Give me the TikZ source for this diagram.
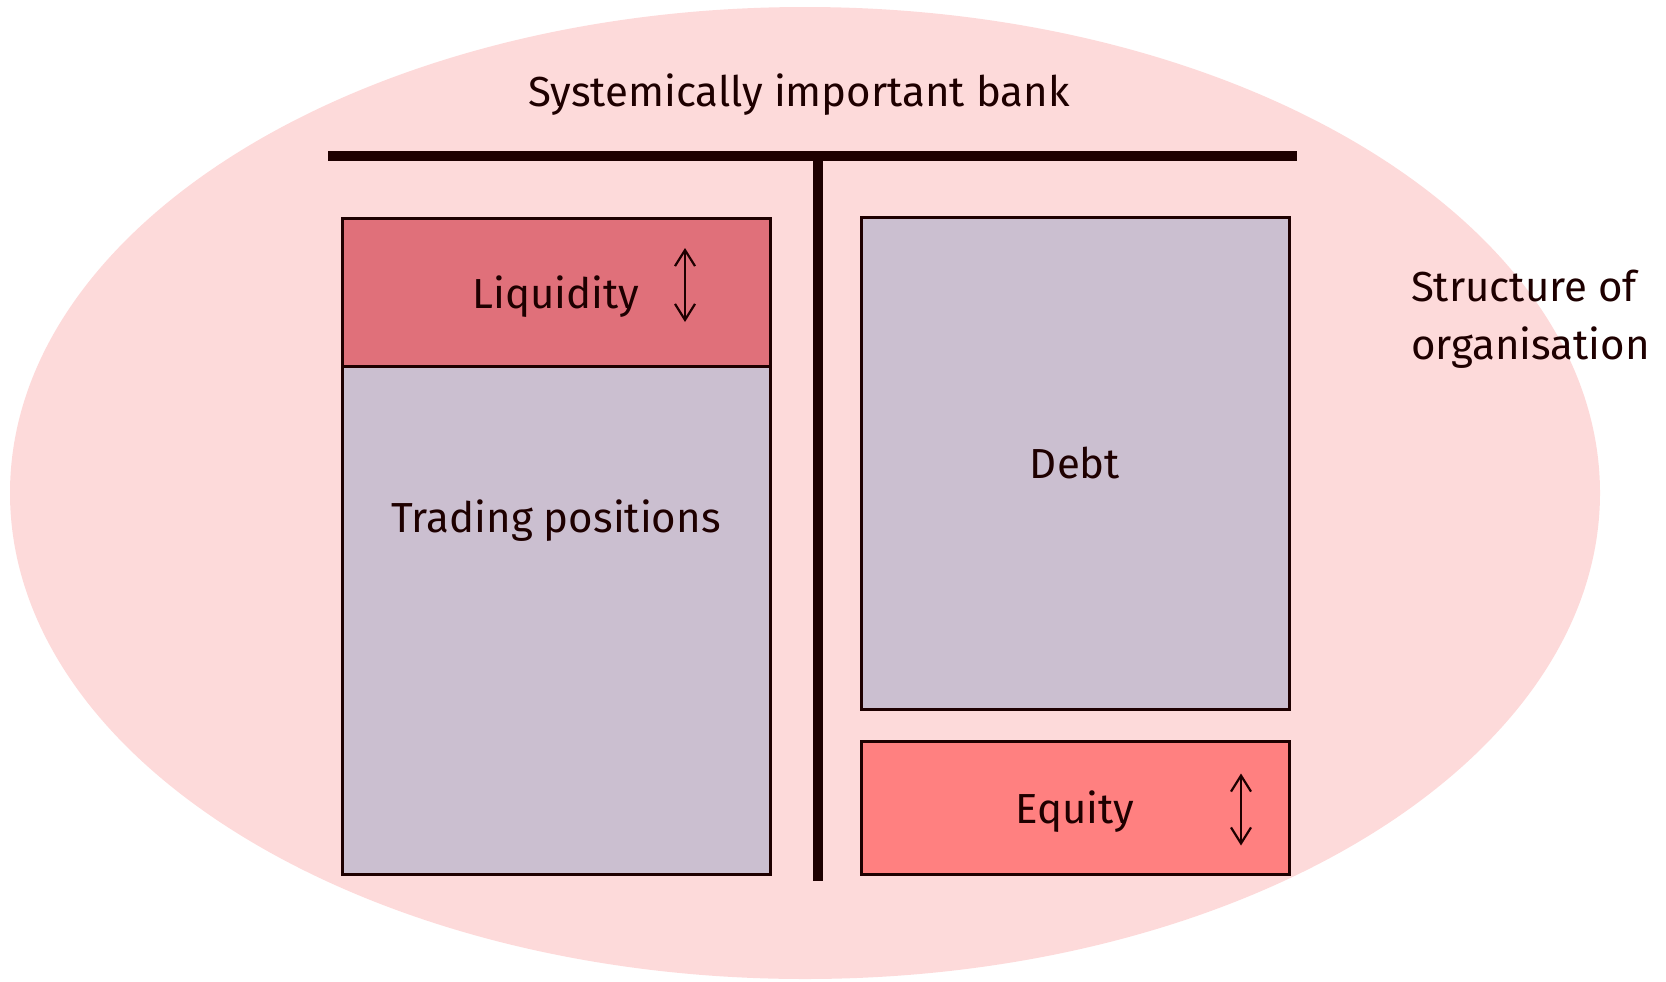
\documentclass[tikz,border=0pt]{standalone}
\usepackage{fontspec}
\setmainfont{Fira Sans}
\usepackage{tikz}
\usetikzlibrary{arrows.meta}
\usetikzlibrary{positioning}

\definecolor{inkdark}{HTML}{1E0000}
\definecolor{orgpink}{HTML}{FDDADA}
\definecolor{liqred}{HTML}{E0707A}
\definecolor{eqred}{HTML}{FF8080}
\definecolor{holdgrey}{HTML}{CBBFD0}

\begin{document}
\begin{tikzpicture}[x=0.5pt,y=-0.5pt,
				line join=miter,
				every node/.style={text=inkdark,font=\fontsize{21}{29}\selectfont},
				block/.style={rectangle,draw=inkdark,line width=1.5pt,outer sep=0pt,
					minimum width=214pt,inner sep=0pt,text depth=0pt},
				bar/.style={draw=inkdark,line width=5pt,line cap=butt},
				updown/.style={draw=inkdark,line width=1.1pt,
					{Straight Barb[length=8pt,width=10pt]}-{Straight Barb[length=8pt,width=10pt]}}]
				
				\useasboundingbox (0,0) rectangle (1666,981);
				\fill[orgpink] (805,493) ellipse [x radius=795, y radius=486];
				
				\node (title) at (799,95) {Systemically important bank};
				\node[align=left,anchor=north west] (struct) at (1404,263) {Structure of\\organisation};
				
				% assets side
				\node[block,fill=liqred,minimum height=74pt] (liq) at (556,292) {Liquidity};
				\node[block,fill=holdgrey,minimum height=254pt] (trade) [below=0pt of liq] {};
				\node (tradetxt) at ([yshift=-77.5pt]trade.north) {Trading positions};
				
				% liabilities side
				\node[block,fill=holdgrey,minimum height=246pt] (debt) at (1075,463) {Debt};
				\node[block,fill=eqred,minimum height=66.5pt] (eq) [below=16pt of debt] {Equity};
				
				% balance sheet T
				\coordinate (barL) at (328,156);
				\coordinate (barR) at (1297,156);
				\coordinate (barT) at (817.5,156);
				\coordinate (barB) at (817.5,881);
				\draw[bar] (barL) -- (barR);
				\draw[bar] (barT) -- (barB);
				
				% up and down arrows
				\coordinate (liqtop) at ([xshift=64.5pt,yshift=22pt]liq.center);
				\coordinate (liqbot) at ([xshift=64.5pt,yshift=-15pt]liq.center);
				\coordinate (eqtop) at ([xshift=83pt,yshift=17pt]eq.center);
				\coordinate (eqbot) at ([xshift=83pt,yshift=-19pt]eq.center);
				\draw[updown] (liqtop) -- (liqbot);
				\draw[updown] (eqtop) -- (eqbot);
			\end{tikzpicture}
\end{document}
